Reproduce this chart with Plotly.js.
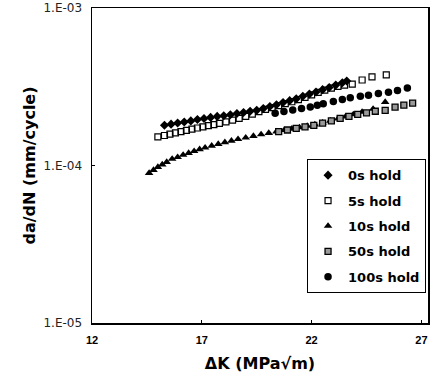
<!DOCTYPE html>
<html>
<head>
<meta charset="utf-8">
<script src="https://cdn.plot.ly/plotly-3.0.1.min.js"></script>
<style>html,body{margin:0;padding:0;background:#fff;}</style>
</head>
<body>
<div id="chart" style="width:447px;height:382px;"></div>
<script>
// ΔK (MPa√m) and da/dN (mm/cycle)
const dk0s   = [15.3,15.6,15.9,16.2,16.5,16.8,17.1,17.4,17.7,18.0,18.3,18.6,18.9,19.2,19.5,19.8,20.1,20.4,20.7,21.0,21.3,21.6,21.9,22.2,22.5,22.8,23.1,23.4,23.6];
const dadn0s = [1.80e-4,1.83e-4,1.86e-4,1.89e-4,1.92e-4,1.96e-4,1.99e-4,2.02e-4,2.05e-4,2.07e-4,2.10e-4,2.14e-4,2.17e-4,2.21e-4,2.24e-4,2.30e-4,2.37e-4,2.43e-4,2.51e-4,2.58e-4,2.65e-4,2.75e-4,2.84e-4,2.93e-4,3.03e-4,3.13e-4,3.24e-4,3.35e-4,3.44e-4];

const dk5s   = [15.0,15.3,15.55,15.8,16.05,16.3,16.55,16.8,17.05,17.3,17.55,17.8,18.1,18.4,18.7,19.0,19.3,19.6,19.9,20.2,20.5,20.8,21.1,21.4,21.7,22.0,22.3,22.6,22.9,23.2,23.5,23.85,24.3,24.75,25.4];
const dadn5s = [1.52e-4,1.55e-4,1.58e-4,1.61e-4,1.64e-4,1.67e-4,1.70e-4,1.73e-4,1.76e-4,1.79e-4,1.82e-4,1.85e-4,1.89e-4,1.94e-4,1.99e-4,2.05e-4,2.12e-4,2.20e-4,2.27e-4,2.33e-4,2.40e-4,2.47e-4,2.54e-4,2.62e-4,2.71e-4,2.81e-4,2.91e-4,3.01e-4,3.10e-4,3.18e-4,3.24e-4,3.29e-4,3.49e-4,3.65e-4,3.76e-4];

const dk10s   = [14.6,14.8,15.0,15.2,15.4,15.65,15.9,16.15,16.4,16.65,16.9,17.15,17.45,17.75,18.05,18.35,18.65,19.0,19.35,19.7,20.05,20.4,20.75,21.1,21.45,21.8,22.15,22.5,22.85,23.2,23.55,23.9,24.3,24.8,25.35];
const dadn10s = [0.895e-4,0.935e-4,0.977e-4,1.014e-4,1.052e-4,1.10e-4,1.13e-4,1.167e-4,1.20e-4,1.233e-4,1.268e-4,1.297e-4,1.334e-4,1.368e-4,1.403e-4,1.435e-4,1.469e-4,1.503e-4,1.538e-4,1.574e-4,1.607e-4,1.641e-4,1.675e-4,1.710e-4,1.746e-4,1.782e-4,1.820e-4,1.871e-4,1.923e-4,1.982e-4,2.046e-4,2.109e-4,2.188e-4,2.286e-4,2.53e-4];

const dk50s   = [20.5,20.9,21.3,21.7,22.1,22.5,22.9,23.3,23.7,24.1,24.5,24.9,25.35,25.8,26.2,26.6];
const dadn50s = [1.64e-4,1.68e-4,1.72e-4,1.76e-4,1.80e-4,1.86e-4,1.92e-4,1.99e-4,2.05e-4,2.11e-4,2.16e-4,2.21e-4,2.24e-4,2.35e-4,2.42e-4,2.49e-4];

const dk100s   = [20.34,20.74,21.14,21.54,21.94,22.26,22.53,22.99,23.40,23.76,24.22,24.59,25.04,25.5,25.91,26.36];
const dadn100s = [2.15e-4,2.20e-4,2.25e-4,2.30e-4,2.35e-4,2.41e-4,2.47e-4,2.55e-4,2.62e-4,2.69e-4,2.75e-4,2.79e-4,2.86e-4,2.92e-4,2.99e-4,3.10e-4];

const seriesNames = ['0s hold','5s hold','10s hold','50s hold','100s hold'];
const xTicks = [12,17,22,27];
const yTicks = [1e-5,1e-4,1e-3];
const yTickText = ['1.E-05','1.E-04','1.E-03'];

const traces = [
  {x: dk0s, y: dadn0s, name: seriesNames[0], legendgroup:'a', mode:'markers', type:'scatter',
   marker:{symbol:'diamond', size:7, color:'#000'}},
  {x: dk5s, y: dadn5s, name: seriesNames[1], legendgroup:'b', mode:'markers', type:'scatter',
   marker:{symbol:'square-open', size:6, color:'#000', line:{width:1.2}}},
  {x: dk10s, y: dadn10s, name: seriesNames[2], legendgroup:'c', mode:'markers', type:'scatter',
   marker:{symbol:'triangle-up', size:7.5, color:'#000'}},
  {x: dk50s, y: dadn50s, name: seriesNames[3], legendgroup:'d', mode:'markers', type:'scatter',
   marker:{symbol:'square', size:6, color:'#9a9a9a', line:{color:'#000', width:1.3}}},
  {x: dk100s, y: dadn100s, name: seriesNames[4], legendgroup:'e', mode:'markers', type:'scatter',
   marker:{symbol:'circle', size:7.5, color:'#000'}}
];

const layout = {
  width: 447, height: 382,
  margin: {l:92, r:19, t:8, b:59},
  paper_bgcolor:'#fff', plot_bgcolor:'#fff',
  showlegend: true,
  legend: {x:0.64, y:0.52, xanchor:'left', yanchor:'top',
           bgcolor:'#fff', bordercolor:'#000', borderwidth:1,
           font:{family:'DejaVu Sans', size:13, color:'#000', weight:'bold'},
           tracegroupgap:5.5, traceorder:'grouped'},
  xaxis: {range:[12,27.3], tickvals:xTicks, ticktext:xTicks.map(String),
          showgrid:false, zeroline:false, showline:true, mirror:true, linecolor:'#000', linewidth:1.5,
          ticks:'inside', ticklen:3, tickcolor:'#000', ticklabelstandoff:6,
          tickfont:{family:'Liberation Sans', size:11, color:'#000', weight:'bold'},
          title:{text:'ΔK (MPa√m)', standoff:13, font:{family:'DejaVu Sans', size:16, color:'#000', weight:'bold'}}},
  yaxis: {type:'log', range:[-5,-3], tickvals:yTicks, ticktext:yTickText,
          showgrid:false, zeroline:false, showline:true, mirror:true, linecolor:'#000', linewidth:1.5,
          ticks:'inside', ticklen:3, tickcolor:'#000', ticklabelstandoff:6,
          tickfont:{family:'DejaVu Sans', size:12, color:'#222'},
          title:{text:'da/dN (mm/cycle)', standoff:4, font:{family:'DejaVu Sans', size:16, color:'#000', weight:'bold'}}}
};

Plotly.newPlot('chart', traces, layout, {displayModeBar:false, staticPlot:true});
</script>
</body>
</html>
